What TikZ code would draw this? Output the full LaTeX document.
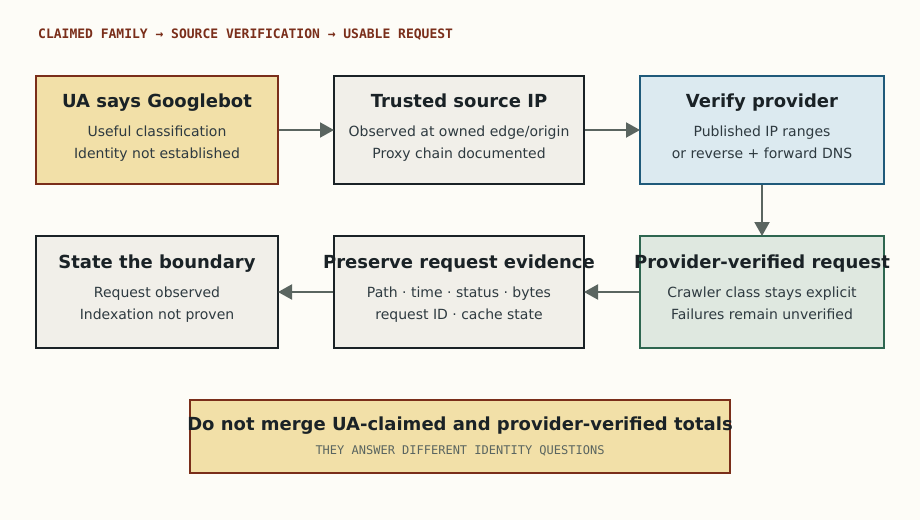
\documentclass[tikz,border=0pt]{standalone}
\usepackage{fontspec}
\setmainfont{DejaVu Sans}
\setmonofont{DejaVu Sans Mono}
\usetikzlibrary{arrows.meta}
\definecolor{bg}{HTML}{FDFCF7}
\definecolor{rust}{HTML}{7A2E1A}
\definecolor{sand}{HTML}{F2E0A8}
\definecolor{paper}{HTML}{F1EFE9}
\definecolor{ink}{HTML}{1A2226}
\definecolor{sky}{HTML}{DCEAF0}
\definecolor{skyline}{HTML}{1F5A7A}
\definecolor{mint}{HTML}{DFE8E0}
\definecolor{mintline}{HTML}{2E6650}
\definecolor{subtext}{HTML}{2E3A40}
\definecolor{arrowc}{HTML}{5A6560}
\tikzset{
  boxbase/.style={draw, line width=2pt, inner sep=0pt},
  ttl/.style={anchor=base, font=\fontsize{18}{21}\selectfont\bfseries, text=ink, inner sep=0pt},
  sub/.style={anchor=base, font=\fontsize{14}{16}\selectfont, text=subtext, inner sep=0pt},
  conn/.style={draw=arrowc, line width=2pt, -{Triangle[length=14pt,width=15pt]}, shorten >=-1pt},
}
\begin{document}
\begin{tikzpicture}[x=1pt,y=-1pt]
\fill[bg] (0,0) rectangle (920,520);
\useasboundingbox (0,0) rectangle (920,520);
\node[anchor=base west, inner sep=0pt, font=\fontsize{13}{15}\selectfont\ttfamily\bfseries, text=rust] (head) at (38,38) {CLAIMED FAMILY → SOURCE VERIFICATION → USABLE REQUEST};
% boxes
\draw[boxbase, draw=rust, fill=sand] (36,76) rectangle (278,184);
\coordinate (b1) at (157,130);
\draw[boxbase, draw=ink, fill=paper] (334,76) rectangle (584,184);
\coordinate (b2) at (459,130);
\draw[boxbase, draw=skyline, fill=sky] (640,76) rectangle (884,184);
\coordinate (b3) at (762,130);
\draw[boxbase, draw=mintline, fill=mint] (640,236) rectangle (884,348);
\coordinate (b6) at (762,292);
\draw[boxbase, draw=ink, fill=paper] (334,236) rectangle (584,348);
\coordinate (b5) at (459,292);
\draw[boxbase, draw=ink, fill=paper] (36,236) rectangle (278,348);
\coordinate (b4) at (157,292);
\draw[boxbase, draw=rust, fill=sand] (190,400) rectangle (730,473);
% texts
\node[ttl] (t1) at (157,107.5) {UA says Googlebot};
\node[sub] (s1a) at (157,136.5) {Useful classification};
\node[sub] (s1b) at (157,158.5) {Identity not established};
\node[ttl] (t2) at (459,107.5) {Trusted source IP};
\node[sub] (s2a) at (459,136.5) {Observed at owned edge/origin};
\node[sub] (s2b) at (459,158.5) {Proxy chain documented};
\node[ttl] (t3) at (762,107.5) {Verify provider};
\node[sub] (s3a) at (762,136.5) {Published IP ranges};
\node[sub] (s3b) at (762,158.5) {or reverse + forward DNS};
\node[ttl] (t6) at (762,268.5) {Provider-verified request};
\node[sub] (s6a) at (762,297.5) {Crawler class stays explicit};
\node[sub] (s6b) at (762,319.5) {Failures remain unverified};
\node[ttl] (t5) at (459,268.5) {Preserve request evidence};
\node[sub] (s5a) at (459,297.5) {Path · time · status · bytes};
\node[sub] (s5b) at (459,319.5) {request ID · cache state};
\node[ttl] (t4) at (157,268.5) {State the boundary};
\node[sub] (s4a) at (157,297.5) {Request observed};
\node[sub] (s4b) at (157,319.5) {Indexation not proven};
\node[ttl] (t7) at (460,430.5) {Do not merge UA-claimed and provider-verified totals};
\node[anchor=base, inner sep=0pt, font=\fontsize{12}{14}\selectfont\ttfamily, text=arrowc] (s7) at (460,454) {THEY ANSWER DIFFERENT IDENTITY QUESTIONS};
% connectors
\coordinate (a1s) at (279,130); \coordinate (a1e) at (333,130);
\coordinate (a2s) at (585,130); \coordinate (a2e) at (639,130);
\coordinate (a3s) at (762,185); \coordinate (a3e) at (762,235);
\coordinate (a4s) at (639,292); \coordinate (a4e) at (585,292);
\coordinate (a5s) at (333,292); \coordinate (a5e) at (279,292);
\draw[conn] (a1s) -- (a1e);
\draw[conn] (a2s) -- (a2e);
\draw[conn] (a3s) -- (a3e);
\draw[conn] (a4s) -- (a4e);
\draw[conn] (a5s) -- (a5e);
\end{tikzpicture}
\end{document}
